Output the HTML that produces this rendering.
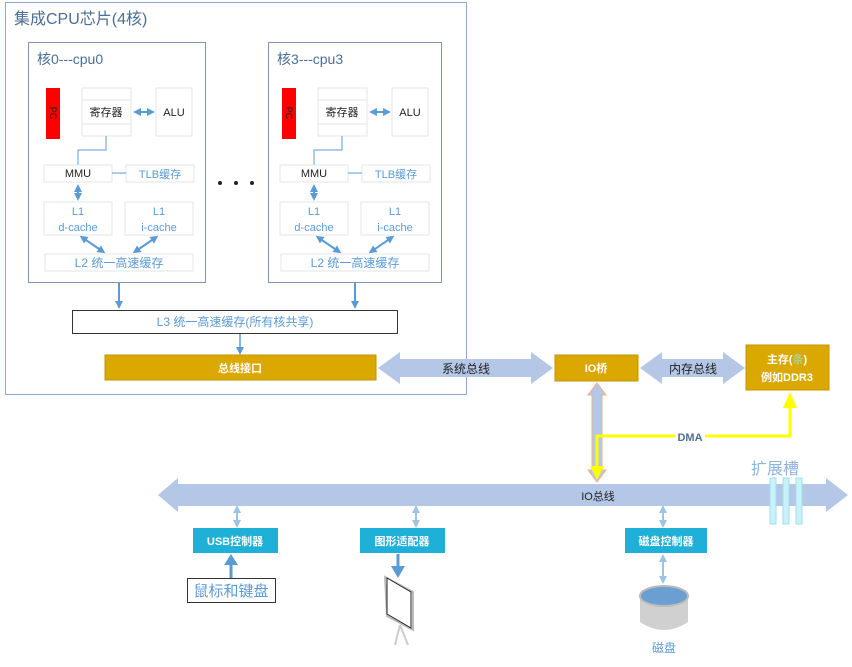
<!DOCTYPE html>
<html><head><meta charset="utf-8"><style>
html,body{margin:0;padding:0;background:#fff;}
svg{display:block;font-family:"Liberation Sans","Noto Sans CJK SC",sans-serif;}
</style></head><body>
<svg width="852" height="667" viewBox="0 0 852 667" xmlns="http://www.w3.org/2000/svg">
<defs>
<marker id="ab" markerWidth="8" markerHeight="8" refX="4" refY="4" orient="auto-start-reverse" markerUnits="userSpaceOnUse"><path d="M0,0 L8,4 L0,8 z" fill="#5b9bd5"/></marker>
<marker id="al" markerWidth="8" markerHeight="8" refX="4" refY="4" orient="auto-start-reverse" markerUnits="userSpaceOnUse"><path d="M0,0 L8,4 L0,8 z" fill="#9dc3e6"/></marker>
<g id="core">
<rect x="46" y="88" width="14" height="51" fill="#ff0000"/>
<text x="53" y="113" font-size="9" fill="#222" transform="rotate(90 53 113)" text-anchor="middle" dominant-baseline="central">PC</text>
<rect x="82" y="88" width="49" height="48" fill="#fff" stroke="#e3e6ea"/>
<line x1="82" y1="100" x2="131" y2="100" stroke="#e3e6ea"/>
<line x1="82" y1="124" x2="131" y2="124" stroke="#e3e6ea"/>
<text x="106" y="116" font-size="11" text-anchor="middle" fill="#222">寄存器</text>
<rect x="156" y="88" width="36" height="48" fill="#fff" stroke="#e3e6ea"/>
<text x="174" y="116" font-size="11" text-anchor="middle" fill="#222">ALU</text>
<line x1="137" y1="112" x2="151" y2="112" stroke="#5b9bd5" stroke-width="2" marker-start="url(#ab)" marker-end="url(#ab)"/>
<polyline points="106,136 106,150 78,150 78,165" fill="none" stroke="#5b9bd5"/>
<rect x="44" y="165" width="68" height="17" fill="#fff" stroke="#e3e6ea"/>
<text x="78" y="177" font-size="11" text-anchor="middle" fill="#222">MMU</text>
<rect x="126" y="165" width="68" height="17" fill="#fff" stroke="#e3e6ea"/>
<text x="160" y="178" font-size="11" text-anchor="middle" fill="#5b9bd5">TLB缓存</text>
<line x1="112" y1="173" x2="126" y2="173" stroke="#5b9bd5"/>
<line x1="78" y1="188" x2="78" y2="197" stroke="#5b9bd5" stroke-width="2" marker-start="url(#ab)" marker-end="url(#ab)"/>
<rect x="44" y="202" width="68" height="33" fill="#fff" stroke="#e3e6ea"/>
<text x="78" y="215" font-size="11" text-anchor="middle" fill="#5b9bd5">L1</text>
<text x="78" y="231" font-size="11" text-anchor="middle" fill="#5b9bd5">d-cache</text>
<rect x="125" y="202" width="68" height="33" fill="#fff" stroke="#e3e6ea"/>
<text x="159" y="215" font-size="11" text-anchor="middle" fill="#5b9bd5">L1</text>
<text x="159" y="231" font-size="11" text-anchor="middle" fill="#5b9bd5">i-cache</text>
<rect x="45" y="254" width="148" height="17" fill="#fff" stroke="#e3e6ea"/>
<text x="119" y="267" font-size="12" text-anchor="middle" fill="#5b9bd5">L2 统一高速缓存</text>
<line x1="83" y1="238" x2="102" y2="251" stroke="#5b9bd5" stroke-width="2" marker-start="url(#ab)" marker-end="url(#ab)"/>
<line x1="155" y1="238" x2="136" y2="251" stroke="#5b9bd5" stroke-width="2" marker-start="url(#ab)" marker-end="url(#ab)"/>
</g>
</defs>
<rect x="5.5" y="2.5" width="461" height="392" fill="#fff" stroke="#8eaacc"/>
<text x="14" y="24" font-size="16" fill="#4d6f94">集成CPU芯片(4核)</text>
<rect x="28.5" y="42.5" width="177" height="240" fill="#fff" stroke="#7f95b0"/>
<text x="37" y="64" font-size="14" fill="#4d6f94">核0---cpu0</text>
<use href="#core"/>
<rect x="268.5" y="42.5" width="173" height="240" fill="#fff" stroke="#7f95b0"/>
<text x="277" y="64" font-size="14" fill="#4d6f94">核3---cpu3</text>
<use href="#core" transform="translate(236,0)"/>
<circle cx="220" cy="183" r="2" fill="#222"/><circle cx="236" cy="183" r="2" fill="#222"/><circle cx="252" cy="183" r="2" fill="#222"/>
<line x1="119" y1="283" x2="119" y2="305" stroke="#5b9bd5" stroke-width="2" marker-end="url(#ab)"/>
<line x1="355" y1="283" x2="355" y2="305" stroke="#5b9bd5" stroke-width="2" marker-end="url(#ab)"/>
<rect x="72.5" y="310.5" width="325" height="23" fill="#fff" stroke="#333"/>
<text x="235" y="326" font-size="12" text-anchor="middle" fill="#5b9bd5">L3 统一高速缓存(所有核共享)</text>
<line x1="240" y1="334" x2="240" y2="351" stroke="#5b9bd5" stroke-width="1.5" marker-end="url(#ab)"/>
<path d="M378,368 L400,352 L400,359 L531,359 L531,352 L553,368 L531,384 L531,377 L400,377 L400,384 Z" fill="#b4c7e7"/>
<text x="466" y="373" font-size="12" text-anchor="middle" fill="#222">系统总线</text>
<path d="M640,368 L662,352 L662,359 L723,359 L723,352 L745,368 L723,384 L723,377 L662,377 L662,384 Z" fill="#b4c7e7"/>
<text x="693" y="373" font-size="12" text-anchor="middle" fill="#222">内存总线</text>
<rect x="105" y="355" width="271" height="25" fill="#dba800" stroke="#c49500"/>
<text x="240" y="372" font-size="11" font-weight="bold" text-anchor="middle" fill="#fff">总线接口</text>
<rect x="555" y="355" width="83" height="26" fill="#dba800" stroke="#c49500"/>
<text x="596" y="372" font-size="11" font-weight="bold" text-anchor="middle" fill="#fff">IO桥</text>
<rect x="746" y="345" width="83" height="45" fill="#dba800" stroke="#c49500"/>
<text x="787" y="363" font-size="11" font-weight="bold" text-anchor="middle" fill="#fff">主存(<tspan fill="#a9d18e">条</tspan>)</text>
<text x="787" y="381" font-size="11" font-weight="bold" text-anchor="middle" fill="#fff">例如DDR3</text>
<path d="M597,383 L606,395 L602,395 L602,470 L606,470 L597,482 L588,470 L592,470 L592,395 L588,395 Z" fill="#b4c7e7" stroke="#f4b183" stroke-width="1"/>
<path d="M158,495 L178,478 L178,484 L826,484 L826,478 L848,495 L826,512 L826,506 L178,506 L178,512 Z" fill="#b4c7e7"/>
<text x="598" y="500" font-size="11" text-anchor="middle" fill="#222">IO总线</text>
<polyline points="790,405 790,436 597,436 597,468" fill="none" stroke="#ffff00" stroke-width="3"/>
<path d="M783,408 L790,392 L797,408 Z" fill="#ffff00"/>
<path d="M590,466 L597,480 L604,466 Z" fill="#ffff00"/>
<rect x="675" y="430" width="30" height="13" fill="#fff"/>
<text x="690" y="441" font-size="11" font-weight="bold" text-anchor="middle" fill="#4d6f94">DMA</text>
<text x="775" y="474" font-size="16" text-anchor="middle" fill="#8fb4dc">扩展槽</text>
<rect x="770" y="478" width="6" height="46" fill="#c9f1f8" stroke="#9fdfee"/>
<rect x="783" y="478" width="6" height="46" fill="#c9f1f8" stroke="#9fdfee"/>
<rect x="796" y="478" width="6" height="46" fill="#c9f1f8" stroke="#9fdfee"/>
<line x1="237" y1="509" x2="237" y2="524" stroke="#9dc3e6" stroke-width="2" marker-start="url(#al)" marker-end="url(#al)"/>
<line x1="416" y1="509" x2="416" y2="524" stroke="#9dc3e6" stroke-width="2" marker-start="url(#al)" marker-end="url(#al)"/>
<line x1="663" y1="509" x2="663" y2="524" stroke="#9dc3e6" stroke-width="2" marker-start="url(#al)" marker-end="url(#al)"/>
<rect x="193" y="528" width="85" height="25" fill="#1fb0d8"/>
<text x="235" y="545" font-size="11" font-weight="bold" text-anchor="middle" fill="#fff">USB控制器</text>
<rect x="360" y="528" width="85" height="25" fill="#1fb0d8"/>
<text x="402" y="545" font-size="11" font-weight="bold" text-anchor="middle" fill="#fff">图形适配器</text>
<rect x="625" y="528" width="82" height="25" fill="#1fb0d8"/>
<text x="666" y="545" font-size="11" font-weight="bold" text-anchor="middle" fill="#fff">磁盘控制器</text>
<line x1="231" y1="578" x2="231" y2="562" stroke="#5b9bd5" stroke-width="3"/>
<path d="M224,565 L231,554 L238,565 Z" fill="#5b9bd5"/>
<rect x="187.5" y="578.5" width="88" height="24" fill="#fff" stroke="#333"/>
<text x="231" y="596" font-size="15" text-anchor="middle" fill="#5b9bd5">鼠标和键盘</text>
<line x1="398" y1="554" x2="398" y2="568" stroke="#5b9bd5" stroke-width="3"/>
<path d="M391,566 L398,578 L405,566 Z" fill="#5b9bd5"/>
<path d="M385,577 L413,592 L413,630 L387,616 Z" fill="#fff" stroke="#bbb" stroke-width="2"/>
<path d="M387,578 L411,592 L411,628 L387,614 Z" fill="#fff" stroke="#222" stroke-width="1"/>
<path d="M400,625 L395,645 M400,625 L408,645" stroke="#ccc" stroke-width="2"/>
<line x1="663" y1="558" x2="663" y2="580" stroke="#9dc3e6" stroke-width="2" marker-start="url(#al)" marker-end="url(#al)"/>
<path d="M640,596 L640,622 Q664,638 688,622 L688,596 Z" fill="#d0d0d0"/>
<ellipse cx="664" cy="596" rx="24" ry="10" fill="#6b9ed1" stroke="#bbb" stroke-width="2"/>
<text x="664" y="652" font-size="12" text-anchor="middle" fill="#5b9bd5">磁盘</text>
</svg>
</body></html>
